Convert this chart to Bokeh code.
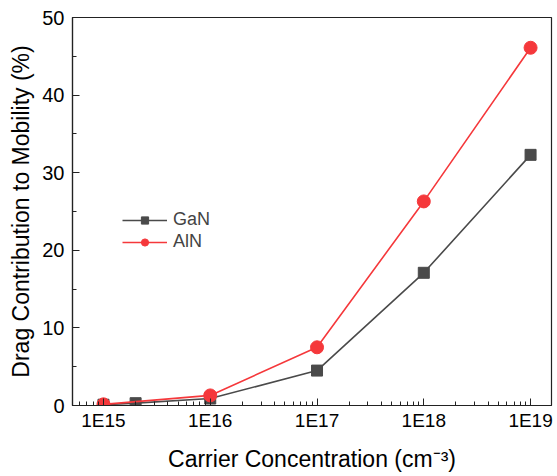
from bokeh.plotting import figure
from bokeh.models import FixedTicker, SingleIntervalTicker, CustomJSTickFormatter, Legend, LegendItem, Range1d
from bokeh.embed import file_html
from bokeh.resources import INLINE

gan_x = [1e15, 2e15, 1e16, 1e17, 1e18, 1e19]
gan_y = [0.1, 0.3, 0.9, 4.5, 17.1, 32.3]
aln_x = [1e15, 1e16, 1e17, 1e18, 1e19]
aln_y = [0.15, 1.3, 7.5, 26.3, 46.1]
major_x = [1e15, 1e16, 1e17, 1e18, 1e19]

FONT = "Liberation Sans"
GRAY = "#4a4a4a"
RED = "#f5383b"

p = figure(width=553, height=474, x_axis_type="log", output_backend="svg",
           toolbar_location=None,
           x_range=Range1d(10**14.71, 10**19.196), y_range=Range1d(0, 50),
           min_border_left=72, min_border_right=2, min_border_top=17, min_border_bottom=69)
p.background_fill_color = "white"
p.border_fill_color = "white"
p.outline_line_color = "#222222"
p.outline_line_width = 1.2
p.grid.visible = False

minor = []
for d in range(14, 20):
    for m in range(2, 10):
        v = m * 10.0 ** d
        if 10**14.71 < v < 10**19.196:
            minor.append(v)
p.xaxis.ticker = FixedTicker(ticks=major_x, minor_ticks=minor)
p.xaxis.formatter = CustomJSTickFormatter(code="return '1E' + Math.round(Math.log10(tick));")
p.yaxis.ticker = SingleIntervalTicker(interval=10, num_minor_ticks=2)

for ax in (p.xaxis[0], p.yaxis[0]):
    ax.major_tick_in = 7
    ax.major_tick_out = 0
    ax.minor_tick_in = 4
    ax.minor_tick_out = 0
    ax.axis_line_color = "#222222"
    ax.major_tick_line_color = "#222222"
    ax.minor_tick_line_color = "#222222"
    ax.axis_line_width = 1.2
    ax.major_label_text_font = FONT
    ax.major_label_text_font_size = "19px"
    ax.major_label_text_color = "black"
    ax.axis_label_text_font = FONT
    ax.axis_label_text_font_size = "23px"
    ax.axis_label_text_font_style = "normal"
    ax.axis_label_text_color = "black"

p.yaxis.major_label_text_font_size = "20px"
p.xaxis.axis_label = "Carrier Concentration (cm\u207b\u00b3)"
p.yaxis.axis_label = "Drag Contribution to Mobility (%)"
p.xaxis.major_label_standoff = 4
p.xaxis.axis_label_standoff = 12
p.yaxis.major_label_standoff = 8
p.yaxis.axis_label_standoff = 5

gl = p.line(gan_x, gan_y, line_color=GRAY, line_width=1.6)
gm = p.scatter(gan_x, gan_y, marker="square", size=11, fill_color=GRAY, line_color=GRAY)
rl = p.line(aln_x, aln_y, line_color=RED, line_width=1.6)
rm = p.scatter(aln_x, aln_y, marker="circle", size=13, fill_color=RED, line_color=RED)

legend = Legend(items=[LegendItem(label="GaN", renderers=[gl, gm]),
                       LegendItem(label="AlN", renderers=[rl, rm])],
                location=(50, 153), border_line_color=None, background_fill_alpha=0,
                glyph_width=45, glyph_height=18, label_standoff=6, spacing=1,
                padding=0, margin=0, label_text_font=FONT, label_text_font_size="18px")
p.add_layout(legend)

open("out.html", "w").write(file_html(p, INLINE))
